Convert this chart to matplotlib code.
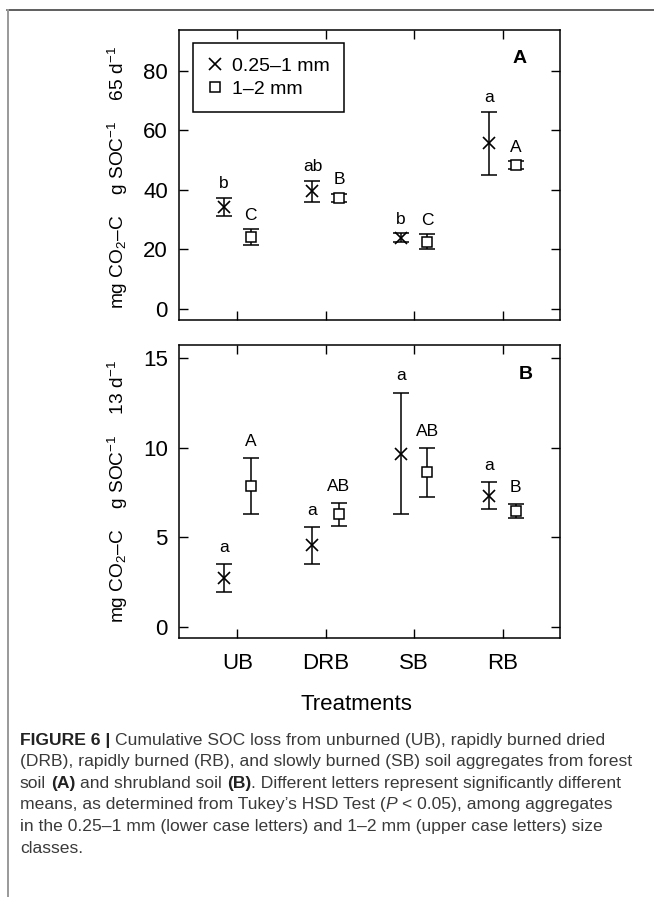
import numpy as np
import matplotlib
matplotlib.use("Agg")
import matplotlib.pyplot as plt
from matplotlib.lines import Line2D

plt.rcParams['font.family'] = ['Liberation Sans', 'DejaVu Sans']
plt.rcParams['mathtext.fontset'] = 'custom'
plt.rcParams['mathtext.rm'] = 'Liberation Sans'
plt.rcParams['mathtext.it'] = 'Liberation Sans:italic'
plt.rcParams['mathtext.bf'] = 'Liberation Sans:bold'

treatments = ["UB", "DRB", "SB", "RB"]

# panel A, forest soil (65 d)
a_small_mean = [34.3, 39.5, 24.0, 55.6]
a_small_err = [3.1, 3.6, 1.4, 10.7]
a_large_mean = [24.2, 37.3, 22.6, 48.3]
a_large_err = [2.7, 1.4, 2.5, 1.4]
a_small_letters = ["b", "ab", "b", "a"]
a_large_letters = ["C", "B", "C", "A"]

# panel B, shrubland soil (13 d)
b_small_mean = [2.70, 4.55, 9.67, 7.32]
b_small_err = [0.78, 1.02, 3.40, 0.75]
b_large_mean = [7.86, 6.27, 8.62, 6.45]
b_large_err = [1.55, 0.63, 1.35, 0.39]
b_small_letters = ["a", "a", "a", "a"]
b_large_letters = ["A", "AB", "AB", "B"]

caption_lines = [
    [("FIGURE 6 |", "bold"), (" ", ""), ("Cumulative SOC loss from unburned (UB), rapidly burned dried", "")],
    [("(DRB), rapidly burned (RB), and slowly burned (SB) soil aggregates from forest", "")],
    [("soil", ""), (" ", ""), ("(A)", "bold"), (" ", ""), ("and shrubland soil", ""), (" ", ""),
     ("(B)", "bold"), (". Different letters represent significantly different", "")],
    [("means, as determined from Tukey\u2019s HSD Test (", ""), ("P", "italic"), (" ", ""),
     ("< 0.05), among aggregates", "")],
    [("in the 0.25\u20131 mm (lower case letters) and 1\u20132 mm (upper case letters) size", "")],
    [("classes.", "")],
]

W, H = 654, 897
fig = plt.figure(figsize=(W / 100, H / 100), dpi=100)

axA = fig.add_axes([179 / W, 1 - 320 / H, 381 / W, 290 / H])
axB = fig.add_axes([179 / W, 1 - 638 / H, 381 / W, 293 / H])

x = np.arange(1, len(treatments) + 1)
dx = 0.15


def draw_panel(ax, s_mean, s_err, l_mean, l_err, s_let, l_let, let_pad):
    ax.errorbar(x - dx, s_mean, yerr=s_err, fmt='none', ecolor='black',
                elinewidth=1.1, capsize=5.5, capthick=1.1, zorder=2)
    ax.plot(x - dx, s_mean, 'x', color='black', ms=8.5, mew=1.2,
            label='0.25\u20131 mm', zorder=3)
    ax.errorbar(x + dx, l_mean, yerr=l_err, fmt='none', ecolor='black',
                elinewidth=1.1, capsize=5.5, capthick=1.1, zorder=2)
    ax.plot(x + dx, l_mean, 's', mfc='white', mec='black', ms=6.5, mew=1.1,
            label='1\u20132 mm', zorder=3)
    # significance letters just above each error bar
    for xi, m, e, lab in zip(x - dx, s_mean, s_err, s_let):
        ax.annotate(lab, (xi, m + e), xytext=(0, let_pad), textcoords='offset points',
                    ha='center', va='center', fontsize=12.5)
    for xi, m, e, lab in zip(x + dx, l_mean, l_err, l_let):
        ax.annotate(lab, (xi, m + e), xytext=(0, let_pad), textcoords='offset points',
                    ha='center', va='center', fontsize=12.5)

    ax.set_xticks(x)
    ax.set_xlim(0.34, 4.65)
    ax.tick_params(direction='in', top=True, right=True, length=6.2, width=1.0,
                   labelsize=16)
    ax.tick_params(axis='y', pad=8)
    ax.tick_params(axis='x', pad=11)
    for sp in ax.spines.values():
        sp.set_linewidth(1.1)


draw_panel(axA, a_small_mean, a_small_err, a_large_mean, a_large_err,
           a_small_letters, a_large_letters, 10)
draw_panel(axB, b_small_mean, b_small_err, b_large_mean, b_large_err,
           b_small_letters, b_large_letters, 12.2)

axA.set_ylim(-3.7, 93.7)
axA.set_yticks([0, 20, 40, 60, 80])
axA.tick_params(axis='x', labelbottom=False)
axB.set_ylim(-0.63, 15.74)
axB.set_yticks([0, 5, 10, 15])
axB.set_xticklabels(treatments)

axA.set_ylabel("mg CO$_2$\u2013C    g SOC$^{-1}$    65 d$^{-1}$", fontsize=13.8)
axB.set_ylabel("mg CO$_2$\u2013C    g SOC$^{-1}$    13 d$^{-1}$", fontsize=13.8)
axA.yaxis.set_label_coords(-0.128, 0.49)
axB.yaxis.set_label_coords(-0.128, 0.5)

axA.text(0.895, 0.903, "A", transform=axA.transAxes, fontsize=14,
         fontweight='bold', ha='center', va='center')
axB.text(0.911, 0.898, "B", transform=axB.transAxes, fontsize=14,
         fontweight='bold', ha='center', va='center')

leg = axA.legend(loc='upper left', bbox_to_anchor=(0.037, 0.955), frameon=True,
                 fancybox=False, edgecolor='black', framealpha=1, fontsize=14,
                 handlelength=0.8, handletextpad=0.45, borderpad=0.75,
                 borderaxespad=0, labelspacing=0.25)
leg.get_frame().set_linewidth(1.1)

axB.set_xlabel("Treatments", fontsize=16)
axB.xaxis.set_label_coords(0.465, -0.19)

# frame lines of the figure page
fig.add_artist(Line2D([7 / W, 1], [1 - 10 / H, 1 - 10 / H], transform=fig.transFigure,
                      color='#333333', lw=1.1))
fig.add_artist(Line2D([8 / W, 8 / W], [0, 1 - 10 / H], transform=fig.transFigure,
                      color='#999999', lw=1.4))

# caption, drawn piece by piece so bold / italic runs can sit inline
renderer = fig.canvas.get_renderer()
cap_size = 12.6
styles = {"": dict(color='#3a3a3a'),
          "bold": dict(color='#222222', fontweight='bold'),
          "italic": dict(color='#3a3a3a', fontstyle='italic')}
probe1 = fig.text(0, 0, "xx", fontsize=cap_size)
probe2 = fig.text(0, 0, "x x", fontsize=cap_size)
space_w = (probe2.get_window_extent(renderer).width - probe1.get_window_extent(renderer).width) / W
probe1.remove()
probe2.remove()

y0 = 1 - 740 / H
line_step = 21.6 / H
for i, line in enumerate(caption_lines):
    xpos = 20 / W
    ypos = y0 - i * line_step
    for txt, st in line:
        if txt == " ":
            xpos += space_w
            continue
        t = fig.text(xpos, ypos, txt, fontsize=cap_size, va='center', ha='left', **styles[st])
        xpos += t.get_window_extent(renderer).width / W

fig.savefig("out.png", dpi=100)
